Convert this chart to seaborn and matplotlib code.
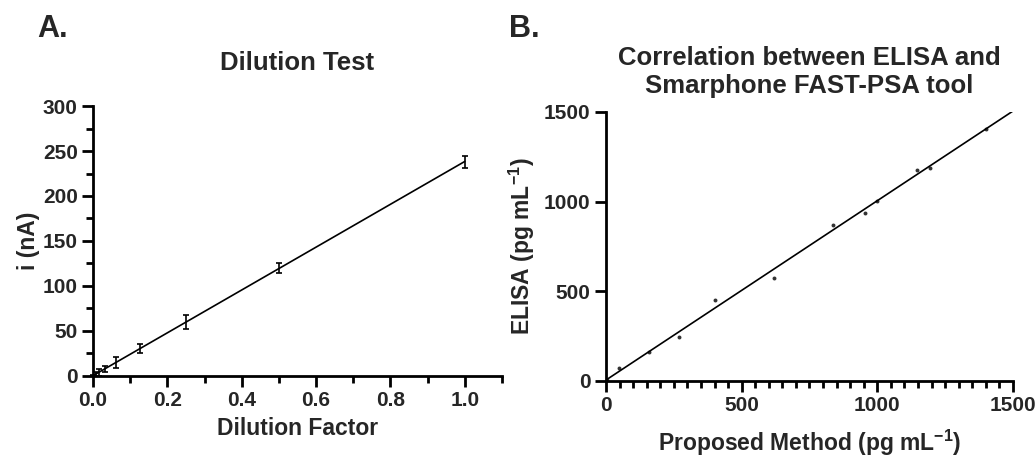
import numpy as np
import matplotlib
matplotlib.use("Agg")
import matplotlib.pyplot as plt
import seaborn as sns
from matplotlib.ticker import MultipleLocator

sns.set_theme(style="ticks")
plt.rcParams['font.family'] = ['Liberation Sans', 'DejaVu Sans']
plt.rcParams['font.weight'] = 'bold'
plt.rcParams['mathtext.fontset'] = 'custom'
plt.rcParams['mathtext.rm'] = 'Liberation Sans:bold'
plt.rcParams['mathtext.default'] = 'rm'

# -----------------------------------
# data
# -----------------------------------
dilution = [0.0, 0.0078, 0.0156, 0.03125, 0.0625, 0.125, 0.25, 0.5, 1.0]
current_nA = [0.5, 2, 4, 7.5, 15, 30, 60, 120, 238]
current_err = [1, 2, 4, 3, 6, 5, 7.5, 5.5, 7]

proposed = [5, 49, 160, 269, 400, 618, 838, 956, 1000, 1148, 1194, 1400]
elisa = [8, 71, 160, 245, 452, 576, 872, 939, 1006, 1176, 1188, 1407]

fig = plt.figure(figsize=(10.35, 4.59), dpi=100)
ax1 = fig.add_axes([0.0899, 0.181, 0.395, 0.588])
ax2 = fig.add_axes([0.5855, 0.170, 0.3932, 0.586])


def style_axis(ax):
    for side in ['top', 'right']:
        ax.spines[side].set_visible(False)
    for side in ['left', 'bottom']:
        ax.spines[side].set_linewidth(2)
        ax.spines[side].set_color('black')
    ax.tick_params(which='major', length=8, width=2, color='black',
                   labelsize=15, pad=3)
    ax.tick_params(which='minor', length=5, width=2, color='black')
    for lab in ax.get_xticklabels() + ax.get_yticklabels():
        lab.set_fontweight('bold')


# -----------------------------------
# A. dilution test
# -----------------------------------
ax1.set_xlim(0, 1.1)
ax1.set_ylim(0, 300)
sns.regplot(x=dilution, y=current_nA, ax=ax1, scatter=False, ci=None,
            line_kws=dict(color='black', lw=1.2))
ax1.errorbar(dilution, current_nA, yerr=current_err, fmt='none',
             ecolor='black', elinewidth=1.2, capsize=2, capthick=1.2,
             clip_on=False)
ax1.set_xticks(np.arange(0, 1.01, 0.2))
ax1.set_xticklabels([f"{v:.1f}" for v in np.arange(0, 1.01, 0.2)])
ax1.xaxis.set_minor_locator(MultipleLocator(0.1))
ax1.set_yticks(np.arange(0, 301, 50))
ax1.yaxis.set_minor_locator(MultipleLocator(25))
ax1.set_xlabel("Dilution Factor", fontsize=16.5, fontweight='bold', labelpad=5)
ax1.set_ylabel("i (nA)", fontsize=16.5, fontweight='bold', labelpad=2)
ax1.set_title("Dilution Test", fontsize=18.5, fontweight='bold', pad=26)
style_axis(ax1)
for line in ax1.lines:
    line.set_clip_on(False)

# -----------------------------------
# B. correlation
# -----------------------------------
ax2.set_xlim(0, 1500)
ax2.set_ylim(0, 1500)
sns.regplot(x=proposed, y=elisa, ax=ax2, ci=None, truncate=False,
            scatter_kws=dict(color='black', s=8, linewidths=0),
            line_kws=dict(color='black', lw=1.2))
ax2.set_xticks([0, 500, 1000, 1500])
ax2.xaxis.set_minor_locator(MultipleLocator(50))
ax2.set_yticks([0, 500, 1000, 1500])
ax2.set_xlabel(r"Proposed Method (pg mL$^{-1}$)", fontsize=16.5,
               fontweight='bold', labelpad=9)
ax2.set_ylabel(r"ELISA (pg mL$^{-1}$)", fontsize=16.5, fontweight='bold',
               labelpad=5)
ax2.set_title("Correlation between ELISA and\nSmarphone FAST-PSA tool",
              fontsize=18.5, fontweight='bold', pad=14, linespacing=1.2)
style_axis(ax2)

fig.text(0.036, 0.92, "A.", fontsize=22, fontweight='bold')
fig.text(0.492, 0.92, "B.", fontsize=22, fontweight='bold')

fig.savefig("out.png", dpi=100)
